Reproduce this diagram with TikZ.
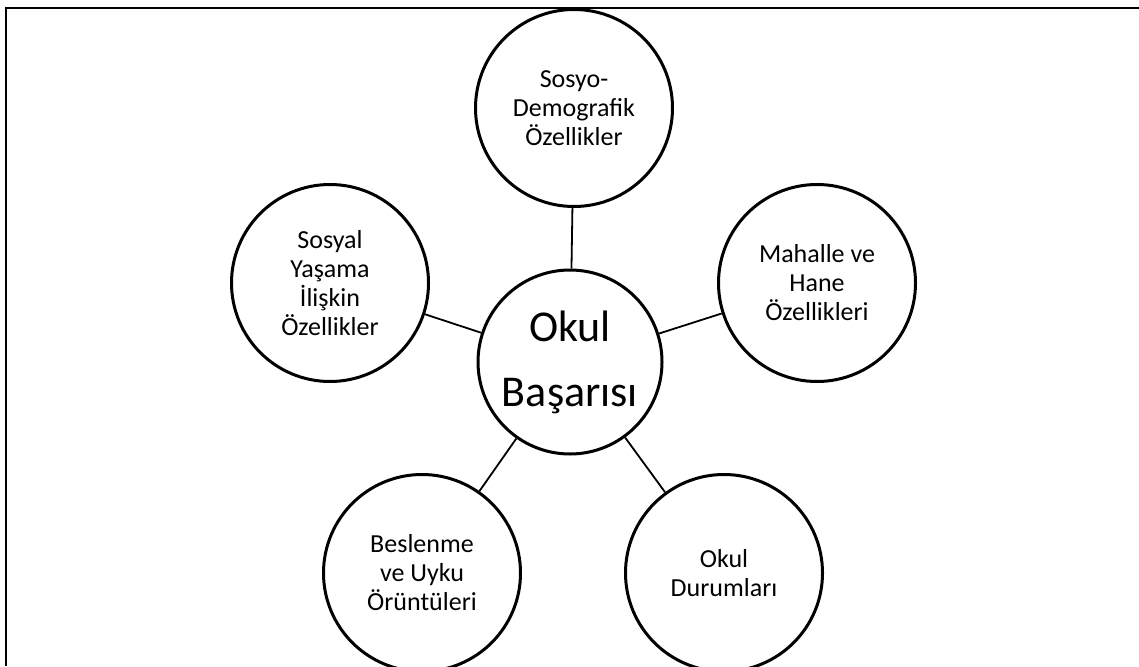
\documentclass[tikz,border=0pt]{standalone}
\usepackage{fontspec}
\setmainfont{Carlito}
\begin{document}
\begin{tikzpicture}[x=1pt,y=-1pt,
  topic/.style={circle,draw,line width=3pt,minimum size=197pt,inner sep=0pt,align=center,
    font=\fontsize{26}{29}\selectfont},
  core/.style={circle,draw,line width=3pt,minimum size=184pt,inner sep=0pt,align=center,
    font=\fontsize{44}{65}\selectfont},
  link/.style={line width=1.8pt},
  frame/.style={line width=2.2pt}]
\useasboundingbox (0,0) rectangle (1139,666);
\coordinate (fTR) at (1139,8);
\coordinate (fTL) at (6,8);
\coordinate (fBL) at (6,666);
\draw[frame] (fTR) -- (fTL) -- (fBL);
\node[core] (c) at (570,362) {Okul\\Başarısı};
\node[topic] (t) at (574,108) {Sosyo-\\Demografik\\Özellikler};
\node[topic] (l) at (330,283) {Sosyal\\Yaşama\\İlişkin\\Özellikler};
\node[topic] (r) at (817,283) {Mahalle ve\\Hane\\Özellikleri};
\node[topic] (bl) at (422,573) {Beslenme\\ve Uyku\\Örüntüleri};
\node[topic] (br) at (724,573) {Okul\\Durumları};
\draw[link] (c) -- (t);
\draw[link] (c) -- (l);
\draw[link] (c) -- (r);
\draw[link] (c) -- (bl);
\draw[link] (c) -- (br);
\end{tikzpicture}
\end{document}
